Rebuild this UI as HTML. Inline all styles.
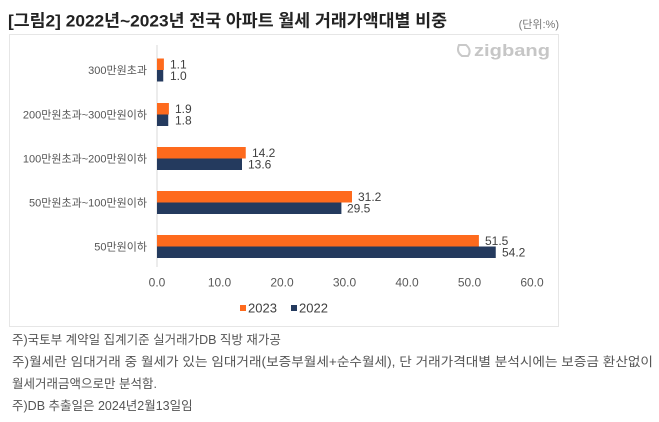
<!DOCTYPE html>
<html><head><meta charset="utf-8">
<style>
html,body{margin:0;padding:0;background:#fff;}
svg{display:block;}
text{font-family:"Liberation Sans","Noto Sans CJK KR",sans-serif;}
</style></head>
<body>
<svg width="659" height="422" viewBox="0 0 659 422" xmlns="http://www.w3.org/2000/svg">
<rect x="0" y="0" width="659" height="422" fill="#fff"/>
<!-- title -->
<text x="8" y="26.5" font-size="17" font-weight="bold" fill="#222" textLength="439" lengthAdjust="spacingAndGlyphs">[그림2] 2022년~2023년 전국 아파트 월세 거래가액대별 비중</text>
<text x="559" y="28" font-size="11" fill="#777" text-anchor="end">(단위:%)</text>
<!-- frame -->
<rect x="9.5" y="34.5" width="549" height="292" fill="#fff" stroke="#e6e6e6" stroke-width="1"/>
<!-- logo -->
<g fill="none" stroke="#c9c9c9" stroke-width="2">
<path d="M459 45 Q456 52 462 56 L468 56 Q472 50 466 45 Z"/>
</g>
<text x="474" y="56" font-size="17" fill="#c6c6c6" font-weight="bold" textLength="76" lengthAdjust="spacingAndGlyphs">zigbang</text>
<!-- axis -->
<line x1="157" y1="45" x2="157" y2="267" stroke="#d9d9d9" stroke-width="1"/>
<!-- category labels -->
<g font-size="11" fill="#555" text-anchor="end">
<text x="147" y="74">300만원초과</text>
<text x="147" y="118.5">200만원초과~300만원이하</text>
<text x="147" y="162.5">100만원초과~200만원이하</text>
<text x="147" y="206.5">50만원초과~100만원이하</text>
<text x="147" y="250.5">50만원이하</text>
</g>
<!-- bars -->
<g fill="#fe6a1d">
<rect x="157" y="58.5" width="6.9" height="11.5"/>
<rect x="157" y="103" width="11.9" height="11.5"/>
<rect x="157" y="147" width="88.75" height="11.5"/>
<rect x="157" y="191" width="195" height="11.5"/>
<rect x="157" y="235" width="321.9" height="11.5"/>
</g>
<g fill="#243a5e">
<rect x="157" y="70" width="6.25" height="11.5"/>
<rect x="157" y="114.5" width="11.25" height="11.5"/>
<rect x="157" y="158.5" width="85" height="11.5"/>
<rect x="157" y="202.5" width="184.4" height="11.5"/>
<rect x="157" y="246.5" width="338.75" height="11.5"/>
</g>
<!-- value labels -->
<g font-size="12" fill="#404040">
<text x="170" y="68.5">1.1</text>
<text x="170" y="80">1.0</text>
<text x="175" y="113">1.9</text>
<text x="175" y="124.5">1.8</text>
<text x="252" y="157">14.2</text>
<text x="248" y="168.5">13.6</text>
<text x="358" y="201">31.2</text>
<text x="347" y="212.5">29.5</text>
<text x="485" y="245">51.5</text>
<text x="502" y="256.5">54.2</text>
</g>
<!-- ticks -->
<g font-size="12" fill="#595959" text-anchor="middle">
<text x="157" y="286.5">0.0</text>
<text x="219.5" y="286.5">10.0</text>
<text x="282" y="286.5">20.0</text>
<text x="344.5" y="286.5">30.0</text>
<text x="407" y="286.5">40.0</text>
<text x="469.5" y="286.5">50.0</text>
<text x="532" y="286.5">60.0</text>
</g>
<!-- legend -->
<rect x="240" y="305" width="6" height="6" fill="#fe6a1d"/>
<text x="248" y="312.5" font-size="13" fill="#404040">2023</text>
<rect x="291" y="305" width="6" height="6" fill="#243a5e"/>
<text x="299" y="312.5" font-size="13" fill="#404040">2022</text>
<!-- notes -->
<g font-size="12.5" fill="#555">
<text x="12" y="344">주)국토부 계약일 집계기준 실거래가DB 직방 재가공</text>
<text x="12" y="366" textLength="641" lengthAdjust="spacingAndGlyphs">주)월세란 임대거래 중 월세가 있는 임대거래(보증부월세+순수월세), 단 거래가격대별 분석시에는 보증금 환산없이</text>
<text x="12" y="388">월세거래금액으로만 분석함.</text>
<text x="12" y="410">주)DB 추출일은 2024년2월13일임</text>
</g>
</svg>
</body></html>
